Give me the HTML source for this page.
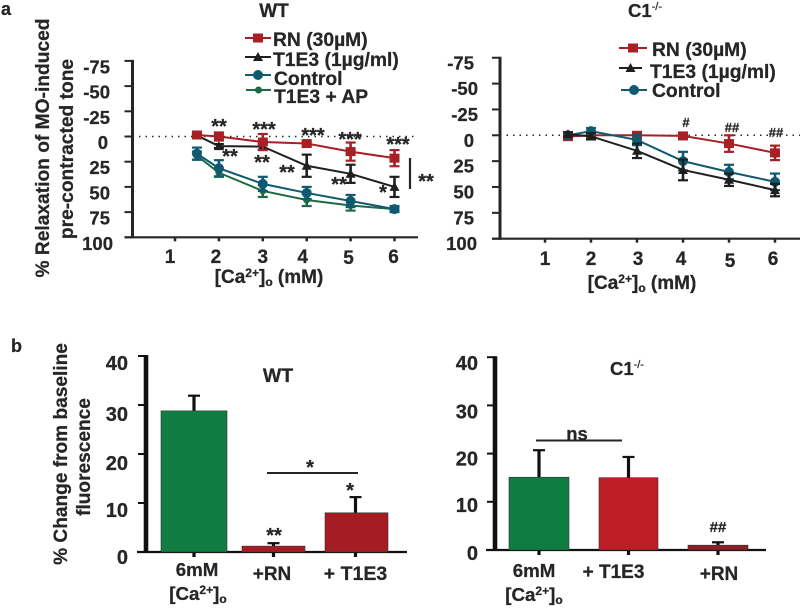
<!DOCTYPE html>
<html>
<head>
<meta charset="utf-8">
<style>
html,body{margin:0;padding:0;background:#fff;width:800px;height:608px;overflow:hidden}
svg{display:block}
text{font-family:"Liberation Sans",sans-serif;font-weight:bold;fill:#262626;stroke:#262626;stroke-width:.25}
</style>
</head>
<body>
<svg id="fig" xmlns="http://www.w3.org/2000/svg" width="800" height="608" viewBox="0 0 800 608">
  <text x="1" y="15" font-size="18">a</text>
  <text x="11" y="352" font-size="18">b</text>

  <text x="274" y="17" font-size="19" text-anchor="middle">WT</text>
  <text x="645" y="17" font-size="18.5" text-anchor="middle">C1<tspan font-size="11" dy="-7" font-weight="normal">-/-</tspan></text>

  <text transform="translate(49,148) rotate(-90)" font-size="19.2" text-anchor="middle">% Relaxation of MO-induced</text>
  <text transform="translate(73,149) rotate(-90)" font-size="19.2" text-anchor="middle">pre-contracted tone</text>

  <text x="269" y="283" font-size="19" text-anchor="middle">[Ca<tspan font-size="12" dy="-6">2+</tspan><tspan dy="6">]</tspan><tspan font-size="12" dy="3">o</tspan><tspan dy="-3"> (mM)</tspan></text>
  <text x="642" y="289" font-size="19" text-anchor="middle">[Ca<tspan font-size="12" dy="-6">2+</tspan><tspan dy="6">]</tspan><tspan font-size="12" dy="3">o</tspan><tspan dy="-3"> (mM)</tspan></text>

  <g>
    <text x="273" y="46" font-size="19.3">RN (30µM)</text>
    <text x="273" y="66" font-size="19.3">T1E3 (1µg/ml)</text>
    <text x="274" y="85" font-size="19.3">Control</text>
    <text x="274" y="103" font-size="19.3">T1E3 + AP</text>
  </g>
  <g>
    <text x="652" y="56" font-size="19.3">RN (30µM)</text>
    <text x="650" y="78" font-size="19.3">T1E3 (1µg/ml)</text>
    <text x="652" y="97" font-size="19.3">Control</text>
  </g>

  <g font-size="20" text-anchor="middle">
    <text x="219" y="133">**</text>
    <text x="264" y="136">***</text>
    <text x="313" y="142">***</text>
    <text x="350" y="146">***</text>
    <text x="398" y="151">***</text>
    <text x="230" y="163">**</text>
    <text x="262" y="169">**</text>
    <text x="287" y="179">**</text>
    <text x="339" y="191">**</text>
    <text x="383" y="199">*</text>
    <text x="426" y="188">**</text>
  </g>
  <line x1="410" y1="158" x2="410" y2="189" stroke="#262626" stroke-width="2.2"/>

  <g font-size="13" text-anchor="middle">
    <text x="686" y="127">#</text>
    <text x="732" y="132">##</text>
    <text x="776" y="137">##</text>
  </g>

  <text transform="translate(67,454) rotate(-90)" font-size="19.1" text-anchor="middle">% Change from baseline</text>
  <text transform="translate(90,457) rotate(-90)" font-size="19.1" text-anchor="middle">fluorescence</text>
  <text x="278" y="382" font-size="19.5" text-anchor="middle">WT</text>
  <text x="627" y="375" font-size="18.5" text-anchor="middle">C1<tspan font-size="11" dy="-7" font-weight="normal">-/-</tspan></text>

  <g>
    <line x1="267" y1="473" x2="358" y2="473" stroke="#262626" stroke-width="2"/>
    <text x="310" y="474" font-size="20" text-anchor="middle">*</text>
    <text x="350" y="497" font-size="20" text-anchor="middle">*</text>
    <text x="274" y="542" font-size="20" text-anchor="middle">**</text>
  </g>
  <g>
    <line x1="536" y1="440.5" x2="622" y2="440.5" stroke="#262626" stroke-width="2"/>
    <text x="577" y="440" font-size="18.5" text-anchor="middle">ns</text>
    <text x="718" y="532" font-size="15" text-anchor="middle">##</text>
  </g>

  <g text-anchor="middle">
    <text x="197" y="576" font-size="18.7">6mM</text>
    <text x="198" y="600" font-size="18.7">[Ca<tspan font-size="12" dy="-6">2+</tspan><tspan dy="6">]</tspan><tspan font-size="12" dy="3">o</tspan></text>
    <text x="272" y="580" font-size="19">+RN</text>
    <text x="355.5" y="580" font-size="19.5">+ T1E3</text>
  </g>
  <g text-anchor="middle">
    <text x="534" y="577" font-size="18.7">6mM</text>
    <text x="534" y="601" font-size="18.7">[Ca<tspan font-size="12" dy="-6">2+</tspan><tspan dy="6">]</tspan><tspan font-size="12" dy="3">o</tspan></text>
    <text x="613.5" y="578" font-size="19">+ T1E3</text>
    <text x="719" y="580" font-size="19">+RN</text>
  </g>
</svg>

<script>
// ---- shared ticks ----
var relaxTicks = [-75, -50, -25, 0, 25, 50, 75, 100];
var concTicks = [1, 2, 3, 4, 5, 6];
var concPoints = [1.5, 2, 3, 4, 5, 6];
var pctTicks = [0, 10, 20, 30, 40];

// ---- panel a, WT ----
var wtRn = [-1.5, 0, 5.5, 7, 15, 21.5];
var wtRnErr = [1, 4, 8, 2, 9, 8];
var wtT1e3 = [-1, 9.5, 10, 29, 37, 50];
var wtT1e3Err = [1, 2, 3, 11, 9, 10];
var wtControl = [17, 31.5, 47, 56, 64, 72];
var wtControlErr = [6, 8, 7, 6, 6, 3];
var wtAp = [19, 36, 54, 63, 68.5, 72];
var wtApErr = [4, 4, 6, 6, 5, 2];

// ---- panel a, C1-/- ----
var c1Rn = [1.3, 0, 0, 0.6, 8, 17];
var c1RnErr = [2, 3, 3, 3, 8, 7];
var c1T1e3 = [-1, 1, 15, 33.5, 43, 53];
var c1T1e3Err = [2, 3, 7, 10, 6, 6];
var c1Control = [0, -4, 4.5, 25, 35.5, 45];
var c1ControlErr = [2, 3, 5, 9, 7, 8];

// ---- panel b ----
var wtBarValues = [28.8, 1.2, 8];
var wtBarErrors = [3.1, 0.6, 3.2];
var c1BarValues = [15.1, 15, 1];
var c1BarErrors = [5.6, 4.3, 0.6];

var NS = 'http://www.w3.org/2000/svg';
var fig = document.getElementById('fig');

function mk(tag, attrs, parent) {
  var el = document.createElementNS(NS, tag);
  for (var k in attrs) el.setAttribute(k, attrs[k]);
  (parent || fig).appendChild(el);
  return el;
}
function ln(x1, y1, x2, y2, color, w, parent) {
  return mk('line', {x1: x1, y1: y1, x2: x2, y2: y2, stroke: color, 'stroke-width': w}, parent);
}
function marker(kind, cx, cy, color, parent) {
  var el;
  if (kind === 'square') {
    el = mk('rect', {x: cx - 5, y: cy - 4.5, width: 10, height: 9, fill: color}, parent);
  } else if (kind === 'triangle') {
    el = mk('polygon', {points: (cx - 5) + ',' + (cy + 4) + ' ' + cx + ',' + (cy - 5) + ' ' + (cx + 5) + ',' + (cy + 4), fill: color}, parent);
  } else if (kind === 'circle') {
    el = mk('circle', {cx: cx, cy: cy, r: 5, fill: color}, parent);
  } else {
    el = mk('circle', {cx: cx, cy: cy, r: 3.5, fill: color}, parent);
  }
  return el;
}

var INK = '#262626';

function linePanel(name, g) {
  var xS = function (v) { return g.x1 + (v - 1) * g.dx; };
  var yS = function (v) { return g.y0 + v * g.dy; };
  var axes = mk('g', {});
  
  

  var zero = ln(g.ax, yS(0), g.xEnd, yS(0), INK, 1.5, axes);
  zero.setAttribute('stroke-dasharray', '1.5 5');
  
  

  var yAxis = ln(g.ax, yS(-75) - 1, g.ax, yS(100) + 1, INK, 3, axes);
  
  
  var xAxis = ln(g.ax - 8, yS(100), g.xEnd, yS(100), INK, 2.2, axes);
  
  

  relaxTicks.forEach(function (t, i) {
    ln(g.ax - 8, yS(t), g.ax, yS(t), INK, 2, axes);
    var lab = mk('text', {x: g.labRight + g.yLabShift[i], y: yS(t) + g.yLabDy, 'font-size': 18.5, 'text-anchor': 'end'}, axes);
    lab.textContent = t;
    
    
  });
  concTicks.forEach(function (t, i) {
    ln(xS(t), yS(100), xS(t), yS(100) + 4, INK, 2.5, axes);
    var lab = mk('text', {x: xS(t) + g.xLabShift[i], y: g.xLabY + g.xLabJitter[i], 'font-size': 19, 'text-anchor': 'middle'}, axes);
    lab.textContent = t;
    
    
  });

  g.series.forEach(function (s) {
    var grp = mk('g', {});
    
    
    var pts = s.vals.map(function (v, i) { return xS(concPoints[i]) + ',' + yS(v); }).join(' ');
    mk('polyline', {points: pts, fill: 'none', stroke: s.color, 'stroke-width': 2}, grp);
    s.vals.forEach(function (v, i) {
      var x = xS(concPoints[i]);
      var t = yS(v - s.errs[i]);
      var b = yS(v + s.errs[i]);
      ln(x, t, x, b, s.color, 2.6, grp);
      ln(x - 5, t, x + 5, t, s.color, 2.2, grp);
      ln(x - 5, b, x + 5, b, s.color, 2.2, grp);
      var m = marker(s.kind, x, yS(v), s.color, grp);
      
      
    });
  });
}

function barPanel(name, g) {
  var yS = function (v) { return g.y0 - v * g.dy; };
  var axes = mk('g', {});
  
  

  g.values.forEach(function (v, i) {
    var b = g.bars[i];
    var grp = mk('g', {});
    
    
    var cx = (b.l + b.r) / 2 + (b.off || 0);
    ln(cx, yS(v), cx, yS(v + g.errors[i]), '#111', 3.2, grp);
    ln(cx - 6, yS(v + g.errors[i]), cx + 6, yS(v + g.errors[i]), '#111', 2.2, grp);
    var r = mk('rect', {x: b.l, y: yS(v), width: b.r - b.l, height: g.y0 - yS(v), fill: b.color, stroke: '#333', 'stroke-width': 0.6}, grp);
    
    
    ln(cx, g.y0, cx, g.y0 + 5, '#111', 3.2, axes);
  });

  var yAxis = ln(g.ax, yS(40) - 1, g.ax, g.y0 + 1, '#111', 4.6, axes);
  
  
  var xAxis = ln(g.ax - 9, g.y0, g.xEnd, g.y0, '#111', 2.2, axes);
  
  

  pctTicks.forEach(function (t, i) {
    ln(g.ax - 8, yS(t), g.ax, yS(t), '#111', 2, axes);
    var lab = mk('text', {x: g.labRight, y: yS(t) + g.yLabDy[i], 'font-size': 20, 'text-anchor': 'end'}, axes);
    lab.textContent = t;
    
    
  });
}

function legendKey(name, x1, x2, y, kind, color) {
  var g = mk('g', {});
  
  
  ln(x1, y, x2, y, color, 1.9, g);
  marker(kind, (x1 + x2) / 2, y, color, g);
}

var RED = '#a81f25', BLK = '#1f1f1f', TEAL = '#0f5a70', GRN = '#1d6a45';

linePanel('wt-line', {
  x1: 175, dx: 43.9, y0: 136.5, dy: 1.008, ax: 132.5, xEnd: 418,
  labRight: 110, yLabShift: [0, 0, 0, -2, 0, 0, 0, 3], yLabDy: 12.5,
  xLabY: 263, xLabJitter: [0, 0, 0, 0, 1, 0], xLabShift: [-5, -3, 0, -4, -2, -1],
  series: [
    {id: 't1e3-ap', vals: wtAp, errs: wtApErr, color: GRN, kind: 'small'},
    {id: 'control', vals: wtControl, errs: wtControlErr, color: TEAL, kind: 'circle'},
    {id: 't1e3', vals: wtT1e3, errs: wtT1e3Err, color: BLK, kind: 'triangle'},
    {id: 'rn', vals: wtRn, errs: wtRnErr, color: RED, kind: 'square'}
  ]
});
linePanel('c1-line', {
  x1: 545, dx: 46, y0: 135.3, dy: 1.034, ax: 500, xEnd: 800,
  labRight: 477, yLabShift: [-3, 1, 1, -3, -3, -3, -3, 0], yLabDy: 11.5,
  xLabY: 265, xLabJitter: [0, 0, 0, 0, 2, 0], xLabShift: [0, 0, 1, -2, 1, -2],
  series: [
    {id: 'rn', vals: c1Rn, errs: c1RnErr, color: RED, kind: 'square'},
    {id: 'control', vals: c1Control, errs: c1ControlErr, color: TEAL, kind: 'circle'},
    {id: 't1e3', vals: c1T1e3, errs: c1T1e3Err, color: BLK, kind: 'triangle'}
  ]
});

barPanel('wt-bar', {
  y0: 552, dy: 4.9, ax: 146, xEnd: 407, labRight: 128, yLabDy: [12, 14, 16, 16, 14],
  values: wtBarValues, errors: wtBarErrors,
  bars: [
    {l: 161, r: 227, color: '#0f7c42'},
    {l: 242, r: 305, color: '#a51d22', off: 0},
    {l: 325, r: 388, color: '#a51d22', off: -1}
  ]
});
barPanel('c1-bar', {
  y0: 550, dy: 4.82, ax: 495, xEnd: 766, labRight: 478, yLabDy: [10, 10, 12, 13, 13],
  values: c1BarValues, errors: c1BarErrors,
  bars: [
    {l: 509, r: 569, color: '#0f7c42'},
    {l: 599, r: 658, color: '#be1e26'},
    {l: 688, r: 748, color: '#8e1d24'}
  ]
});

legendKey('legend-key-wt-rn', 245, 271, 38, 'square', RED);
legendKey('legend-key-wt-t1e3', 245, 271, 57, 'triangle', BLK);
legendKey('legend-key-wt-control', 245, 271, 75, 'circle', TEAL);
legendKey('legend-key-wt-t1e3-ap', 246, 271, 90, 'small', GRN);
legendKey('legend-key-c1-rn', 619, 647, 48, 'square', RED);
legendKey('legend-key-c1-t1e3', 619, 642, 68, 'triangle', BLK);
legendKey('legend-key-c1-control', 621, 647, 90, 'circle', TEAL);
</script>
</body>
</html>
